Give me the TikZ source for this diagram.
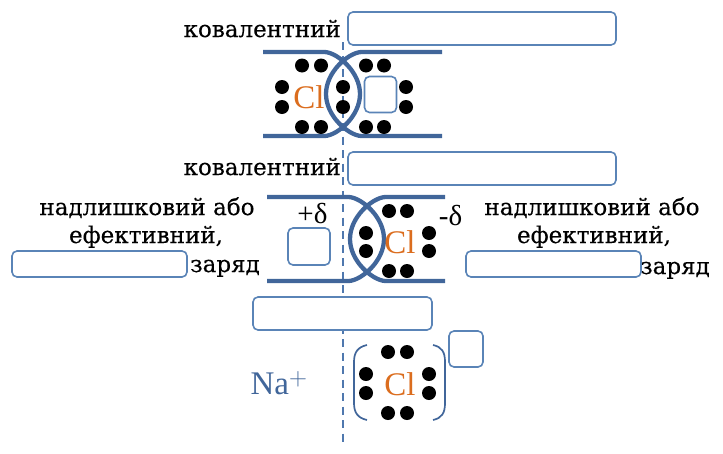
\documentclass[tikz,border=0pt]{standalone}
\usepackage{fontspec}
\setmainfont[FakeBold=0.25]{DejaVu Serif}
\newfontfamily\clfont{Liberation Serif}
\newfontfamily\labfont[AutoFakeBold=0.3]{DejaVu Serif}
\definecolor{bondblue}{HTML}{41669A}
\definecolor{boxblue}{HTML}{5A84B7}
\definecolor{dashblue}{HTML}{4F78AE}
\definecolor{clorange}{HTML}{DB6D1E}
\tikzset{
  x=1pt,y=-1pt,
  answerbox/.style={draw=boxblue,line width=1.6pt,fill=white,rounded corners=5pt},
  bond/.style={draw=bondblue,line width=4.3pt},
  bracket/.style={draw=bondblue,line width=1.7pt},
  axis/.style={draw=dashblue,line width=1.9pt,dash pattern=on 8pt off 5.5pt},
  edot/.style={circle,fill=black,inner sep=0pt,minimum size=14pt},
  lab/.style={font=\labfont\bfseries\fontsize{23}{28}\selectfont,text=black,inner sep=0pt,align=center},
  cl/.style={font=\clfont\fontsize{33}{33}\selectfont,text=clorange,inner sep=0pt},
  delta/.style={font=\clfont\fontsize{29}{29}\selectfont,text=black,inner sep=0pt},
}
\newcommand{\edots}[1]{\foreach \px/\py in {#1} {\node[edot] at (\px,\py) {};}}
\begin{document}
\begin{tikzpicture}
\useasboundingbox (0,0) rectangle (723,453);
\coordinate (axT) at (343,42);
\coordinate (axB) at (343,445);
\draw[axis] (axT) -- (axB);
% top molecule
\draw[bond] (263,52) -- (325,52) .. controls (338,53) and (360,72) .. (360,94) .. controls (360,116) and (338,135) .. (325,136) -- (263,136);
\draw[bond] (442,52) -- (361,52) .. controls (348,53) and (326,72) .. (326,94) .. controls (326,116) and (348,135) .. (361,136) -- (442,136);
\edots{302/65.5,321/65.5,366/65.5,384/65.5,282/87,282/107,343/87,343/107,406/87,406/107,302/127,321/127,366/127,384/127}
\node[cl] (cla) at (309,97) {Cl};
\node[answerbox,minimum width=32pt,minimum height=36pt,inner sep=0pt] (ba) at (380.5,94.5) {};
% boxes
\node[answerbox,minimum width=268pt,minimum height=33pt,inner sep=0pt] (b1) at (482,28.5) {};
\node[answerbox,minimum width=268pt,minimum height=33pt,inner sep=0pt] (b2) at (482,168.5) {};
\node[lab,anchor=base east] (t1) at (341,37) {ковалентний};
\node[lab,anchor=base east] (t2) at (341,175) {ковалентний};
% second molecule
\draw[bond] (267,197) -- (349,197) .. controls (362,198) and (384,217) .. (384,239) .. controls (384,261) and (362,280) .. (349,281) -- (267,281);
\draw[bond] (445,197) -- (385,197) .. controls (372,198) and (350,217) .. (350,239) .. controls (350,261) and (372,280) .. (385,281) -- (445,281);
\edots{389/211,407/211,366/233,366/251,429/233,429/251,389/271,407/271}
\node[cl] (clb) at (400,242) {Cl};
\node[delta] (dp) at (312.5,214) {+δ};
\node[delta] (dm) at (450.5,216) {-δ};
\node[answerbox,minimum width=42pt,minimum height=37pt,inner sep=0pt] (bp) at (309,246.5) {};
% left label
\node[lab,anchor=base] (l1) at (147,215) {надлишковий або};
\node[lab,anchor=base] (l2) at (146,243) {ефективний,};
\node[lab,anchor=base east] (l3) at (260,272) {заряд};
\node[answerbox,minimum width=175pt,minimum height=26pt,inner sep=0pt] (bl) at (99.5,264) {};
% right label
\node[lab,anchor=base] (r1) at (592,215) {надлишковий або};
\node[lab,anchor=base] (r2) at (594,243) {ефективний,};
\node[lab,anchor=base east] (r3) at (710,274) {заряд};
\node[answerbox,minimum width=175pt,minimum height=26pt,inner sep=0pt] (br) at (553.5,264) {};
% mid box
\node[answerbox,minimum width=179pt,minimum height=33pt,inner sep=0pt] (bm) at (342.5,313.5) {};
% ion
\node[font=\clfont\fontsize{33}{33}\selectfont,text=bondblue,inner sep=0pt] (na) at (279,383) {Na$^{+}$};
\draw[bracket] (367,345) .. controls (358,347) and (354,352) .. (354,362) -- (354,403) .. controls (354,413) and (358,418) .. (367,420);
\draw[bracket] (433,345) .. controls (442,347) and (445,352) .. (445,362) -- (445,403) .. controls (445,413) and (442,418) .. (433,420);
\edots{388/352,407/352,366/374,366/393,429/374,429/393,388/413,407/413}
\node[cl] (clc) at (400,384) {Cl};
\node[answerbox,minimum width=34pt,minimum height=36pt,inner sep=0pt] (bs) at (466,349) {};
\end{tikzpicture}
\end{document}
